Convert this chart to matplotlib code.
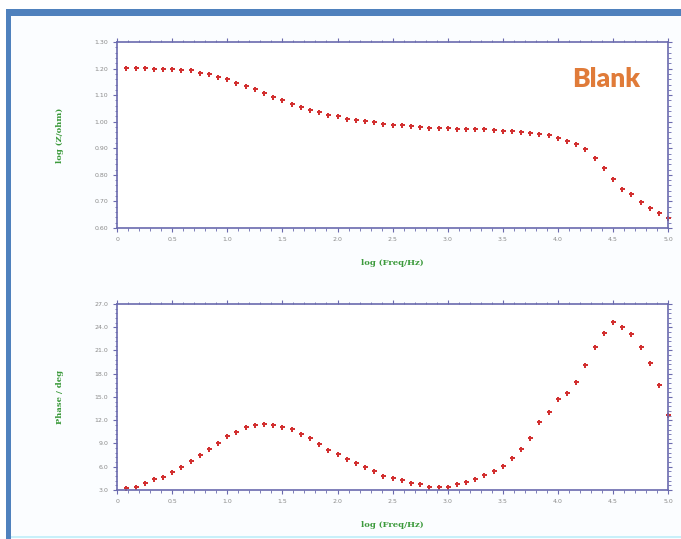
import numpy as np
import matplotlib
matplotlib.use("Agg")
import matplotlib.pyplot as plt
from matplotlib.ticker import MultipleLocator, AutoMinorLocator, FormatStrFormatter, FuncFormatter
from matplotlib.patches import Rectangle

# log frequency grid (12 points per decade, 10 Hz^(1/12) .. 100 kHz)
log_freq = [0.083, 0.167, 0.250, 0.333, 0.417, 0.500, 0.583, 0.667, 0.750, 0.833,
            0.917, 1.000, 1.083, 1.167, 1.250, 1.333, 1.417, 1.500, 1.583, 1.667,
            1.750, 1.833, 1.917, 2.000, 2.083, 2.167, 2.250, 2.333, 2.417, 2.500,
            2.583, 2.667, 2.750, 2.833, 2.917, 3.000, 3.083, 3.167, 3.250, 3.333,
            3.417, 3.500, 3.583, 3.667, 3.750, 3.833, 3.917, 4.000, 4.083, 4.167,
            4.250, 4.333, 4.417, 4.500, 4.583, 4.667, 4.750, 4.833, 4.917, 5.000]

log_z = [1.202, 1.203, 1.203, 1.200, 1.200, 1.197, 1.195, 1.194, 1.185, 1.179,
         1.167, 1.160, 1.146, 1.135, 1.123, 1.107, 1.095, 1.082, 1.068, 1.055,
         1.044, 1.037, 1.026, 1.020, 1.010, 1.006, 1.002, 0.998, 0.991, 0.988,
         0.987, 0.983, 0.980, 0.978, 0.978, 0.976, 0.973, 0.971, 0.971, 0.971,
         0.968, 0.967, 0.965, 0.962, 0.958, 0.953, 0.949, 0.939, 0.928, 0.917,
         0.898, 0.862, 0.824, 0.784, 0.746, 0.727, 0.698, 0.676, 0.655, 0.636]

phase = [3.22, 3.43, 3.95, 4.38, 4.72, 5.36, 6.01, 6.70, 7.48, 8.29,
         9.10, 9.97, 10.53, 11.09, 11.43, 11.52, 11.43, 11.17, 10.83, 10.23,
         9.67, 8.94, 8.20, 7.65, 7.00, 6.52, 6.01, 5.41, 4.85, 4.57,
         4.22, 3.95, 3.77, 3.43, 3.34, 3.43, 3.73, 4.03, 4.46, 4.89,
         5.45, 6.14, 7.17, 8.25, 9.67, 11.73, 13.06, 14.70, 15.48, 16.98,
         19.13, 21.49, 23.22, 24.72, 24.07, 23.13, 21.41, 19.43, 16.55, 12.68]

axis_col = '#6a6aae'
label_col = '#3c9a3c'
dot_col = '#d23030'

fig = plt.figure(figsize=(6.81, 5.39), dpi=100, facecolor='white')

# outer frame of the slide
fig.patches.append(Rectangle((0.009, 0.0), 0.991, 0.975, transform=fig.transFigure,
                             facecolor='#fbfdff', edgecolor='none', zorder=-3))
fig.patches.append(Rectangle((0.009, 0.970), 0.991, 0.013, transform=fig.transFigure,
                             facecolor='#4f81bd', edgecolor='none', zorder=-2))
fig.patches.append(Rectangle((0.009, 0.0), 0.007, 0.983, transform=fig.transFigure,
                             facecolor='#4f81bd', edgecolor='none', zorder=-2))
fig.patches.append(Rectangle((0.016, 0.002), 0.984, 0.003, transform=fig.transFigure,
                             facecolor='#c8f0fa', edgecolor='none', zorder=-2))


def xfmt(v, pos):
    return '0' if abs(v) < 1e-9 else '%.1f' % v


def style(ax, ylo, yhi, ystep, yfmt, ylabel):
    ax.set_facecolor('white')
    ax.set_xlim(0, 5.0)
    ax.set_ylim(ylo, yhi)
    ax.xaxis.set_major_locator(MultipleLocator(0.5))
    ax.xaxis.set_minor_locator(AutoMinorLocator(5))
    ax.yaxis.set_major_locator(MultipleLocator(ystep))
    ax.yaxis.set_minor_locator(AutoMinorLocator(5))
    ax.yaxis.set_major_formatter(FormatStrFormatter(yfmt))
    ax.xaxis.set_major_formatter(FuncFormatter(xfmt))
    for s in ax.spines.values():
        s.set_color(axis_col)
        s.set_linewidth(1.2)
    ax.tick_params(which='both', direction='out', color=axis_col,
                   top=True, right=True, labelsize=4.5, labelcolor='#8a8a8a')
    ax.tick_params(which='major', length=3, width=0.8)
    ax.tick_params(which='minor', length=1.8, width=0.6)
    ax.set_xlabel('log (Freq/Hz)', color=label_col, fontsize=6, fontweight='bold',
                  family='serif', labelpad=12)
    ax.set_ylabel(ylabel, color=label_col, fontsize=6, fontweight='bold',
                  family='serif', labelpad=22)


ax1 = fig.add_axes([0.172, 0.577, 0.809, 0.345])
ax1.plot(log_freq, log_z, linestyle='none', marker='P', markersize=3.6,
         color=dot_col, markeredgewidth=0, clip_on=False)
style(ax1, 0.60, 1.30, 0.10, '%.2f', 'log (Z/ohm)')
ax1.text(0.887, 0.80, 'Blank', transform=ax1.transAxes, ha='center', va='center',
         color='#e07b39', fontsize=19, fontweight='heavy', family='Lato')

ax2 = fig.add_axes([0.172, 0.091, 0.809, 0.345])
ax2.plot(log_freq, phase, linestyle='none', marker='P', markersize=3.6,
         color=dot_col, markeredgewidth=0, clip_on=False)
style(ax2, 3.0, 27.0, 3.0, '%.1f', 'Phase / deg')

fig.savefig('out.png', dpi=100, facecolor=fig.get_facecolor())
